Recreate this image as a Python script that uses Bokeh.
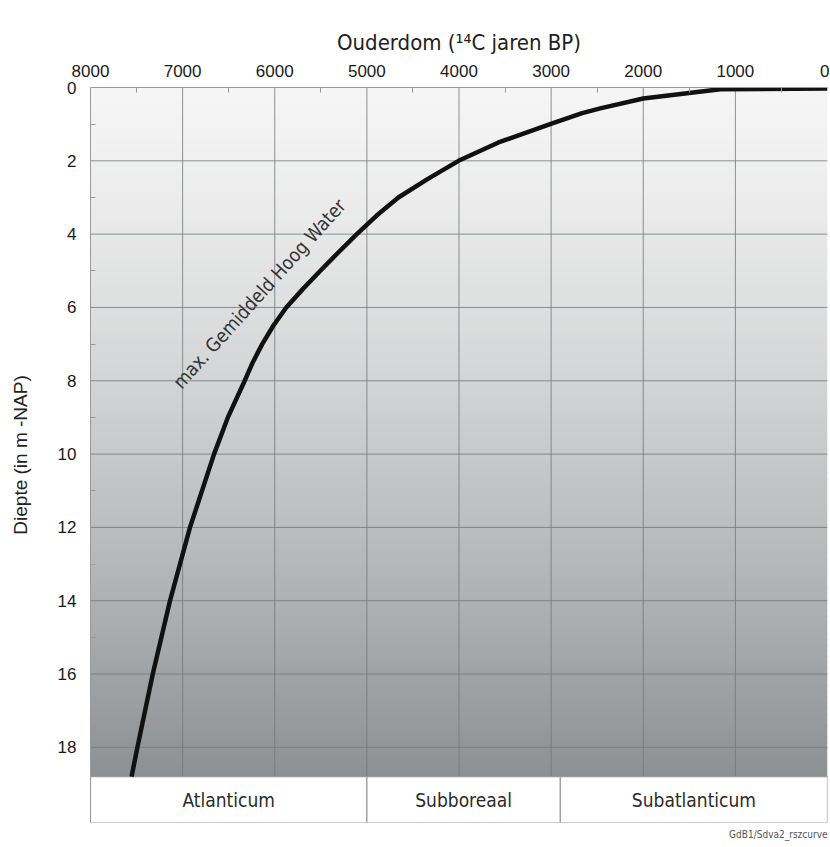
import numpy as np
from bokeh.plotting import figure
from bokeh.models import Range1d, FixedTicker, Label, Title
from bokeh.core.properties import value
from bokeh.embed import file_html
from bokeh.resources import INLINE

# ---- data ----
age_bp = [7554, 7491, 7324, 7137, 6920, 6659, 6509, 6326, 6239, 6136, 6016,
          5875, 5696, 5505, 5310, 5109, 4897, 4658, 4342, 4005, 3571, 3011,
          2837, 2663, 2467, 2000, 1163, 0]
depth_m = [18.8, 18.0, 16.0, 14.0, 12.0, 10.0, 9.0, 8.0, 7.5, 7.0, 6.5,
           6.0, 5.5, 5.0, 4.5, 4.0, 3.5, 3.0, 2.5, 2.0, 1.5, 1.0,
           0.85, 0.7, 0.57, 0.3, 0.05, 0.03]

x_ticks = [8000, 7000, 6000, 5000, 4000, 3000, 2000, 1000, 0]
x_minor = [7500, 6500, 5500, 4500, 3500, 2500, 1500, 500]
y_ticks = [0, 2, 4, 6, 8, 10, 12, 14, 16, 18]
y_minor = [1, 3, 5, 7, 9, 11, 13, 15, 17]

periods = ["Atlanticum", "Subboreaal", "Subatlanticum"]
period_start = [8000, 5000, 2900]
period_end = [5000, 2900, 0]

depth_max = 18.8
band_bottom = 20.05

NARROW = "DejaVu Sans Condensed, Open Sans"
SANS = "Liberation Sans"
AXIS_GREY = "#9a9a9a"

p = figure(width=829, height=845,
           x_range=Range1d(8000, 0), y_range=Range1d(band_bottom, 0),
           x_axis_location="above", output_backend="svg", toolbar_location=None,
           min_border_left=90, min_border_top=87, min_border_right=2, min_border_bottom=23)
p.xgrid.visible = False
p.ygrid.visible = False
p.outline_line_color = None
p.background_fill_color = "white"
p.border_fill_color = "white"

# ---- background gradient (light top -> grey bottom) ----
n = 120
edges = np.linspace(0, depth_max, n + 1)
cols = []
for i in range(n):
    t = (i + 0.5) / n
    f = t ** 1.3
    r = int(round(245 - 104 * f))
    g = int(round(245 - 101 * f))
    b = int(round(245 - 98 * f))
    cols.append("#%02x%02x%02x" % (r, g, b))
p.quad(left=8000, right=0, top=edges[:-1], bottom=np.minimum(edges[1:] + 0.03, depth_max),
       fill_color=cols, line_color=None)

# ---- grid lines ----
vx = x_ticks[1:-1]
p.segment(x0=vx, y0=[0] * len(vx), x1=vx, y1=[depth_max] * len(vx),
          line_color="#74777a", line_width=1, line_alpha=0.8)
hy = y_ticks[1:]
p.segment(x0=[8000] * len(hy), y0=hy, x1=[0] * len(hy), y1=hy,
          line_color="#74777a", line_width=1, line_alpha=0.8)

# ---- period band ----
p.quad(left=period_start, right=period_end, top=depth_max, bottom=band_bottom,
       fill_color="white", line_color=AXIS_GREY, line_width=1.2)
mids = [(a + b) / 2 for a, b in zip(period_start, period_end)]
p.text(x=mids, y=[(depth_max + band_bottom) / 2] * len(mids), text=periods,
       text_align="center", text_baseline="middle",
       text_font=value(NARROW), text_font_size="19px", text_color="#2a2a2a")

# ---- curve ----
p.line(age_bp, depth_m, line_width=4.5, line_color="#111111", line_join="round")

p.add_layout(Label(x=6170, y=5.62, text="max. Gemiddeld Hoog Water", angle=48,
                   angle_units="deg", text_align="center", text_baseline="middle",
                   text_font=NARROW, text_font_size="19px", text_color="#333333"))

# ---- credit line under the chart ----
credit = Title(text="GdB1/Sdva2_rszcurve", align="right", text_font=NARROW,
               text_font_size="10px", text_font_style="normal", text_color="#555555",
               standoff=9)
p.add_layout(credit, "below")

# ---- axes ----
xa = p.xaxis[0]
xa.ticker = FixedTicker(ticks=x_ticks, minor_ticks=x_minor)
xa.major_tick_in = 0
xa.major_tick_out = 0
xa.minor_tick_in = 5
xa.minor_tick_out = 0
xa.axis_line_color = AXIS_GREY
xa.minor_tick_line_color = AXIS_GREY
xa.major_label_text_font = SANS
xa.major_label_text_font_size = "17px"
xa.major_label_text_color = "#1a1a1a"
xa.major_label_standoff = 11
xa.axis_label = "Ouderdom (¹⁴C jaren BP)"
xa.axis_label_text_font = NARROW
xa.axis_label_text_font_size = "22px"
xa.axis_label_text_font_style = "normal"
xa.axis_label_text_color = "#222222"
xa.axis_label_standoff = 7

ya = p.yaxis[0]
ya.ticker = FixedTicker(ticks=y_ticks, minor_ticks=y_minor)
ya.major_tick_in = 0
ya.major_tick_out = 0
ya.minor_tick_in = 5
ya.minor_tick_out = 0
ya.axis_line_color = AXIS_GREY
ya.minor_tick_line_color = AXIS_GREY
ya.major_label_text_font = SANS
ya.major_label_text_font_size = "17px"
ya.major_label_text_color = "#1a1a1a"
ya.major_label_standoff = 14
ya.axis_label = "Diepte (in m -NAP)"
ya.axis_label_text_font = SANS
ya.axis_label_text_font_size = "19px"
ya.axis_label_text_font_style = "normal"
ya.axis_label_text_color = "#222222"
ya.axis_label_standoff = 24

open("out.html", "w").write(file_html(p, INLINE))
